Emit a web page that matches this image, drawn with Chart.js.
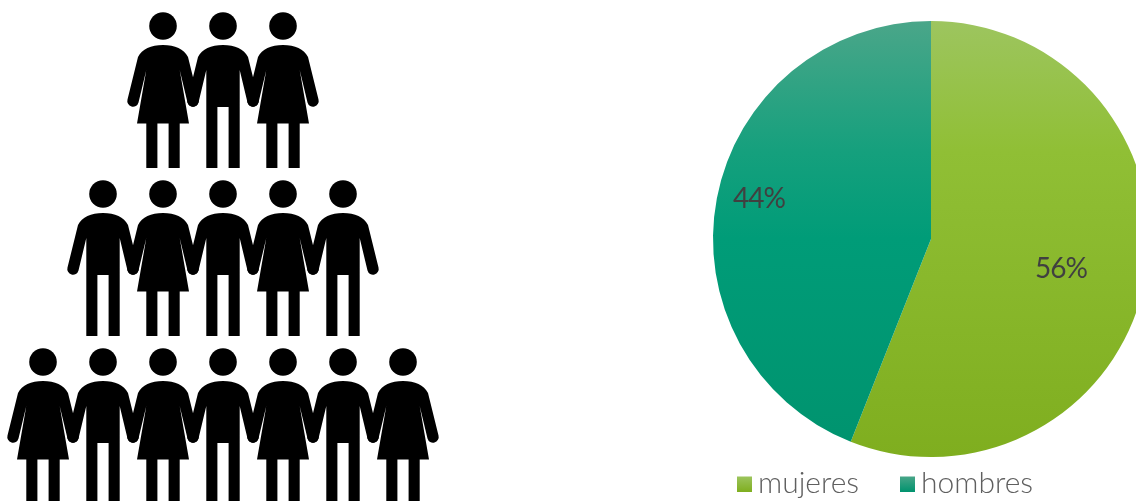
<!DOCTYPE html>
<html>
<head>
<meta charset="utf-8">
<script src="https://cdn.jsdelivr.net/npm/chart.js@4"></script>
<style>
  html, body { margin: 0; width: 1136px; height: 501px; overflow: hidden; background: #fff; }
  canvas { position: absolute; top: 0; }
  #chartPersonas { left: 0; }
  #chartGenero { left: 600px; }
</style>
</head>
<body>
<canvas id="chartPersonas" width="460" height="501"></canvas>
<canvas id="chartGenero" width="600" height="501"></canvas>
<script>
// datos
const categorias = ['mujeres', 'hombres'];
const porcentajes = [56, 44];

// piramide de personas: M = mujer, H = hombre, fila de arriba a abajo
const filas = ['MHM', 'HMHMH', 'MHMHMHM'];

// estilos
const desplazamientoEtiquetas = [[23, 9.5], [-65, -20]];

// -------- iconos --------
function crearIcono(tipo) {
    const c = document.createElement('canvas');
    c.width = 76;
    c.height = 160;
    const g = c.getContext('2d');
    g.translate(38, -10); // el icono usa y de 12 a 168
    g.fillStyle = '#000';
    g.beginPath();
    g.arc(0, 26, 13.8, 0, Math.PI * 2);
    g.fill();

    g.beginPath();
    g.moveTo(0, 45);
    g.bezierCurveTo(-12, 45, -21, 49, -25, 57);
    g.lineTo(-35.5, 99.5);
    g.arc(-30, 101, 5.7, Math.PI * 195 / 180, Math.PI * 15 / 180, true);
    g.lineTo(-16.7, 70);
    if (tipo === 'M') {
        g.lineTo(-26, 123.5);
        g.lineTo(-16.7, 123.5);
        g.lineTo(-16.7, 168);
        g.lineTo(-5.6, 168);
        g.lineTo(-5.6, 123.5);
        g.lineTo(5.6, 123.5);
        g.lineTo(5.6, 168);
        g.lineTo(16.7, 168);
        g.lineTo(16.7, 123.5);
        g.lineTo(26, 123.5);
    } else {
        g.lineTo(-16.7, 168);
        g.lineTo(-5.6, 168);
        g.lineTo(-5.6, 107);
        g.lineTo(5.6, 107);
        g.lineTo(5.6, 168);
        g.lineTo(16.7, 168);
    }
    g.lineTo(16.7, 70);
    g.lineTo(24.5, 102.5);
    g.arc(30, 101, 5.7, Math.PI * 165 / 180, -Math.PI * 15 / 180, true);
    g.lineTo(25, 57);
    g.bezierCurveTo(21, 49, 12, 45, 0, 45);
    g.closePath();
    g.fill();
    return c;
}
const iconoMujer = crearIcono('M');
const iconoHombre = crearIcono('H');

const puntos = [];
const estilos = [];
filas.forEach(function(fila, f) {
    for (let i = 0; i < fila.length; i++) {
        puntos.push({ x: i - (fila.length - 1) / 2, y: f });
        estilos.push(fila[i] === 'M' ? iconoMujer : iconoHombre);
    }
});

// -------- pictograma --------
new Chart(document.getElementById('chartPersonas'), {
    type: 'scatter',
    data: {
        datasets: [{
            data: puntos,
            pointStyle: estilos,
            clip: false
        }]
    },
    options: {
        responsive: false,
        animation: false,
        layout: { autoPadding: false },
        plugins: { legend: { display: false }, tooltip: { enabled: false } },
        scales: {
            // 60 px por columna y 168 px por fila
            x: { display: false, min: -223 / 60, max: (460 - 223) / 60 },
            y: { display: false, reverse: true, min: -90 / 168, max: (501 - 90) / 168 }
        }
    }
});

// -------- pastel --------
const canvasPastel = document.getElementById('chartGenero');
const ctx = canvasPastel.getContext('2d');

const verdeClaro = ctx.createLinearGradient(0, 21, 0, 457);
verdeClaro.addColorStop(0, '#9dc55f');
verdeClaro.addColorStop(0.3, '#90bf35');
verdeClaro.addColorStop(1, '#7fae1f');

const verdeAzul = ctx.createLinearGradient(0, 21, 0, 457);
verdeAzul.addColorStop(0, '#4aa689');
verdeAzul.addColorStop(0.3, '#15a07d');
verdeAzul.addColorStop(0.5, '#009c78');
verdeAzul.addColorStop(1, '#00936e');

const muestraVerde = ctx.createLinearGradient(0, 476, 0, 492);
muestraVerde.addColorStop(0, '#9dc55f');
muestraVerde.addColorStop(1, '#7fae1f');

const muestraAzul = ctx.createLinearGradient(0, 476, 0, 492);
muestraAzul.addColorStop(0, '#4aa689');
muestraAzul.addColorStop(1, '#00936e');

const etiquetasPastel = {
    id: 'etiquetasPastel',
    afterDatasetsDraw(chart) {
        const g = chart.ctx;
        const area = chart.chartArea;
        const cx = (area.left + area.right) / 2;
        g.save();

        // porcentajes
        g.font = '28px Lato';
        g.letterSpacing = '-1px';
        g.fillStyle = '#404040';
        g.textAlign = 'center';
        g.textBaseline = 'middle';
        chart.getDatasetMeta(0).data.forEach(function(arco, i) {
            const p = arco.getCenterPoint();
            const d = desplazamientoEtiquetas[i];
            g.fillText(porcentajes[i] + '%', p.x + d[0], p.y + d[1]);
        });

        // leyenda
        const muestras = [muestraVerde, muestraAzul];
        const posX = [-194, -31];
        g.font = '300 30px Lato';
        g.letterSpacing = '0px';
        g.textAlign = 'left';
        g.textBaseline = 'alphabetic';
        categorias.forEach(function(nombre, i) {
            g.fillStyle = muestras[i];
            g.fillRect(cx + posX[i], 476.5, 15, 15.5);
            g.fillStyle = '#5f5f5f';
            g.fillText(nombre, cx + posX[i] + 21, 492.5);
        });
        g.restore();
    }
};

new Chart(canvasPastel, {
    type: 'pie',
    data: {
        labels: categorias,
        datasets: [{
            data: porcentajes,
            backgroundColor: [verdeClaro, verdeAzul],
            borderWidth: 0
        }]
    },
    options: {
        responsive: false,
        animation: false,
        layout: { padding: { left: 113, right: 51, top: 21, bottom: 44 } },
        plugins: { legend: { display: false }, tooltip: { enabled: false } }
    },
    plugins: [etiquetasPastel]
});
</script>
</body>
</html>
